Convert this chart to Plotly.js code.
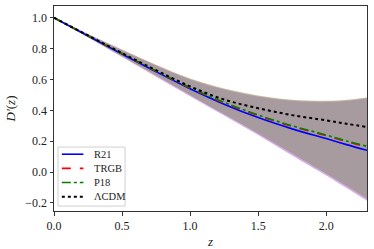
<!DOCTYPE html>
<html>
<head>
<meta charset="utf-8">
<script src="https://cdn.plot.ly/plotly-3.0.1.min.js"></script>
<style>
  html, body { margin: 0; padding: 0; background: #fff; }
  #chart { width: 374px; height: 249px; }
</style>
</head>
<body>
<div id="chart"></div>
<script>
// redshift grid and curves
const z = [0, 0.25, 0.5, 0.75, 1.0, 1.25, 1.5, 1.75, 2.0, 2.15, 2.3];
const r21 = [1.0, 0.882, 0.765, 0.65, 0.54, 0.44, 0.353, 0.28, 0.217, 0.178, 0.141];
const trgb = [1.0, 0.883, 0.767, 0.653, 0.545, 0.448, 0.366, 0.296, 0.236, 0.198, 0.162];
const p18 = [1.0, 0.884, 0.768, 0.655, 0.548, 0.452, 0.37, 0.3, 0.24, 0.202, 0.167];
const lcdm = [1.0, 0.885, 0.771, 0.66, 0.555, 0.47, 0.414, 0.369, 0.335, 0.313, 0.292];

// uncertainty band (overlapping fills)
const bandUpper = [1.0, 0.893, 0.79, 0.69, 0.6, 0.535, 0.49, 0.462, 0.455, 0.462, 0.477];
const bandLower = [1.0, 0.875, 0.75, 0.625, 0.5, 0.375, 0.25, 0.12, -0.01, -0.09, -0.172];
const edgeUpper = [1.0, 0.895, 0.794, 0.695, 0.606, 0.542, 0.497, 0.469, 0.462, 0.469, 0.484];
const edgeLower = [1.0, 0.873, 0.745, 0.618, 0.492, 0.366, 0.24, 0.108, -0.022, -0.103, -0.186];

const labels = ['R21', 'TRGB', 'P18', '\u039BCDM'];
const colors = ['blue', 'red', 'green', 'black'];
const dashes = ['solid', 'dash', 'dashdot', 'dot'];
const widths = [1.6, 1.6, 1.6, 2];

const serif = 'Liberation Serif';

function band(lo, hi, color) {
  return [
    { x: z, y: lo, mode: 'lines', line: { width: 0, shape: 'spline' }, showlegend: false, hoverinfo: 'skip' },
    { x: z, y: hi, mode: 'lines', line: { width: 0, shape: 'spline' }, fill: 'tonexty',
      fillcolor: color, showlegend: false, hoverinfo: 'skip' }
  ];
}

const series = [r21, trgb, p18, lcdm];
const data = [
  ...band(bandLower, edgeUpper, 'rgb(200,188,150)'),
  ...band(edgeLower, bandUpper, 'rgb(214,172,232)'),
  ...band(bandLower, bandUpper, 'rgb(168,155,160)'),
  ...series.map((s, i) => ({
    x: z, y: s, mode: 'lines', name: labels[i], showlegend: false,
    line: { color: colors[i], width: widths[i], dash: dashes[i], shape: 'spline' }
  }))
];

// hand-drawn legend box (lower left)
const shapes = [{
  type: 'rect', xref: 'paper', yref: 'paper', x0: 0.0128, x1: 0.227, y0: 0.024, y1: 0.312,
  line: { color: '#d0d0d0', width: 1 }, fillcolor: 'rgba(255,255,255,0.85)', layer: 'above'
}];
const annotations = [];
labels.forEach((lab, i) => {
  const yp = 0.277 - i * 0.069;
  shapes.push({
    type: 'line', xref: 'paper', yref: 'paper', x0: 0.025, x1: 0.094, y0: yp, y1: yp,
    line: { color: colors[i], width: widths[i], dash: dashes[i] }, layer: 'above'
  });
  annotations.push({
    xref: 'paper', yref: 'paper', x: 0.12, y: yp, xanchor: 'left', yanchor: 'middle',
    text: lab, showarrow: false, font: { family: serif, size: 10.5, color: '#222' }
  });
});

const axisStyle = {
  showgrid: false, zeroline: false, showline: true, mirror: true,
  linecolor: '#333', linewidth: 1, ticks: 'outside', ticklen: 3.5, tickcolor: '#333',
  tickfont: { family: serif, size: 12, color: '#222' }
};

const layout = {
  width: 374, height: 249,
  margin: { l: 54, r: 7, t: 6, b: 38 },
  paper_bgcolor: 'white', plot_bgcolor: 'white',
  showlegend: false,
  shapes: shapes,
  annotations: annotations,
  xaxis: Object.assign({}, axisStyle, {
    range: [0, 2.3], tickvals: [0, 0.5, 1, 1.5, 2], ticktext: ['0.0', '0.5', '1.0', '1.5', '2.0'],
    title: { text: '<i>z</i>', standoff: 6, font: { family: serif, size: 13, color: '#222' } }
  }),
  yaxis: Object.assign({}, axisStyle, {
    range: [-0.252, 1.076], tickvals: [-0.2, 0, 0.2, 0.4, 0.6, 0.8, 1.0],
    ticktext: ['\u22120.2', '0.0', '0.2', '0.4', '0.6', '0.8', '1.0'],
    title: { text: '<i>D\u2032</i>(<i>z</i>)', standoff: 6, font: { family: serif, size: 13, color: '#222' } }
  })
};

Plotly.newPlot('chart', data, layout, { staticPlot: true, displayModeBar: false });
</script>
</body>
</html>
